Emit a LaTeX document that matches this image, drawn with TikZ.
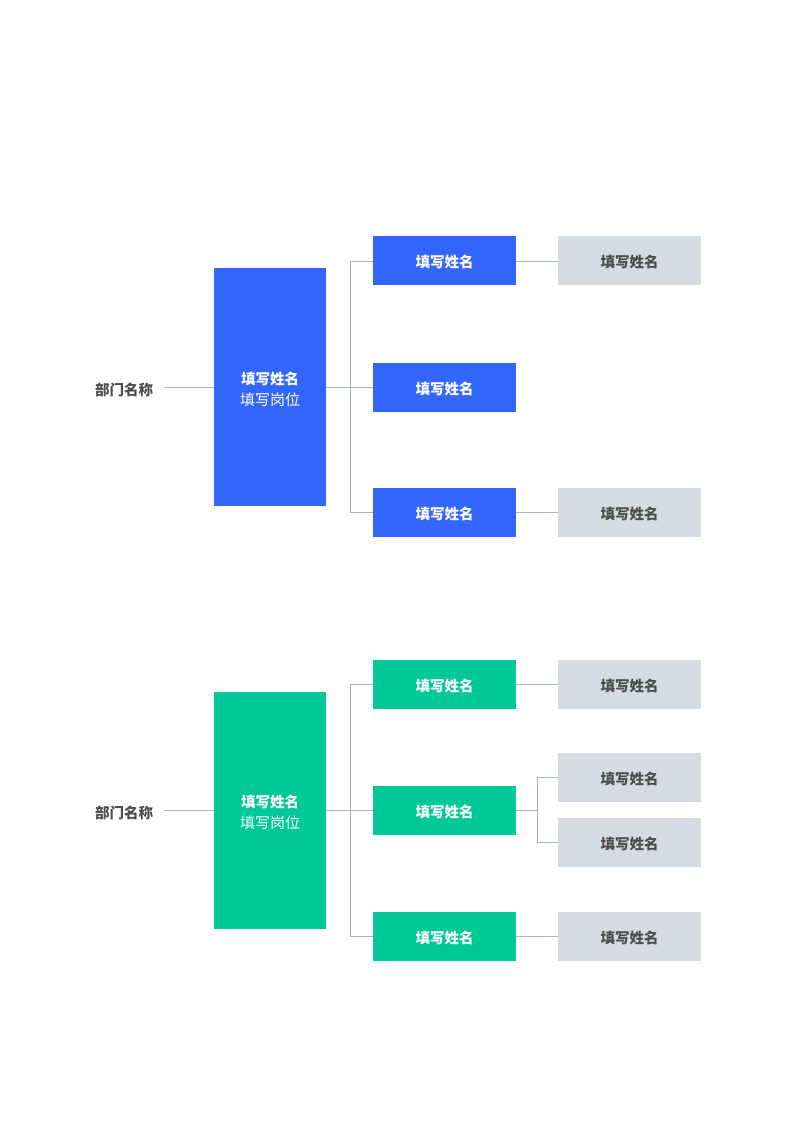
\documentclass[tikz,border=0pt]{standalone}
\usepackage{fontspec}
\setmainfont{Noto Sans CJK SC}
\definecolor{cblue}{HTML}{3366FF}
\definecolor{cgreen}{HTML}{00C896}
\definecolor{cgray}{HTML}{D5DBE3}
\definecolor{cline}{HTML}{A9B4C2}
\definecolor{ctext}{HTML}{4D4D4D}
\begin{document}
\begin{tikzpicture}[x=1pt,y=-1pt,
  main/.style={minimum width=112pt,minimum height=237pt,inner sep=0pt},
  sub/.style={minimum width=143pt,minimum height=49pt,inner sep=0pt,text=white,text height=14pt,text depth=0pt,font=\fontsize{14.5}{16}\selectfont\bfseries},
  leaf/.style={fill=cgray,minimum width=143pt,minimum height=49pt,inner sep=0pt,text=ctext,text height=14pt,text depth=0pt,font=\fontsize{14.5}{16}\selectfont\bfseries},
  dept/.style={text=ctext,font=\fontsize{14.5}{16}\selectfont\bfseries,inner sep=0pt},
  lbl/.style={inner sep=0pt},
  conn/.style={draw=cline,line width=0.9pt}]
\useasboundingbox (0,0) rectangle (800,1131);
% ---------- top (blue) ----------
\node[dept] (d1) at (124,389.5) {部门名称};
\node[main,fill=cblue] (m1) at (270,387) {};
\node[lbl,text=white,font=\fontsize{14.5}{16}\selectfont\bfseries] (m1a) at (270,379) {填写姓名};
\node[lbl,text=white,font=\fontsize{15}{16}\selectfont] (m1b) at (270,400) {填写岗位};
\node[sub,fill=cblue] (b1) at (444.5,261) {填写姓名};
\node[sub,fill=cblue] (b2) at (444.5,387) {填写姓名};
\node[sub,fill=cblue] (b3) at (444.5,512) {填写姓名};
\node[leaf] (g1) at (629.5,261) {填写姓名};
\node[leaf] (g3) at (629.5,512) {填写姓名};
\coordinate (d1e) at (164,387);
\coordinate (j1) at (350,387);
\draw[conn] (d1e) -- (m1.west);
\draw[conn] (m1.east) -- (b2.west);
\draw[conn] (j1) |- (b1.west);
\draw[conn] (j1) |- (b3.west);
\draw[conn] (b1.east) -- (g1.west);
\draw[conn] (b3.east) -- (g3.west);
% ---------- bottom (green) ----------
\node[dept] (d2) at (124,812.5) {部门名称};
\node[main,fill=cgreen] (m2) at (270,810) {};
\node[lbl,text=white,font=\fontsize{14.5}{16}\selectfont\bfseries] (m2a) at (270,802) {填写姓名};
\node[lbl,text=white,font=\fontsize{15}{16}\selectfont] (m2b) at (270,823) {填写岗位};
\node[sub,fill=cgreen] (s1) at (444.5,684.5) {填写姓名};
\node[sub,fill=cgreen] (s2) at (444.5,810) {填写姓名};
\node[sub,fill=cgreen] (s3) at (444.5,936.5) {填写姓名};
\node[leaf] (h1) at (629.5,684.5) {填写姓名};
\node[leaf] (h2a) at (629.5,777) {填写姓名};
\node[leaf] (h2b) at (629.5,842) {填写姓名};
\node[leaf] (h3) at (629.5,936.5) {填写姓名};
\coordinate (d2e) at (164,810);
\coordinate (j2) at (350,810);
\coordinate (k2) at (537,810);
\draw[conn] (d2e) -- (m2.west);
\draw[conn] (m2.east) -- (s2.west);
\draw[conn] (j2) |- (s1.west);
\draw[conn] (j2) |- (s3.west);
\draw[conn] (s1.east) -- (h1.west);
\draw[conn] (s3.east) -- (h3.west);
\draw[conn] (s2.east) -- (k2);
\draw[conn] (k2) |- (h2a.west);
\draw[conn] (k2) |- (h2b.west);
\end{tikzpicture}
\end{document}
